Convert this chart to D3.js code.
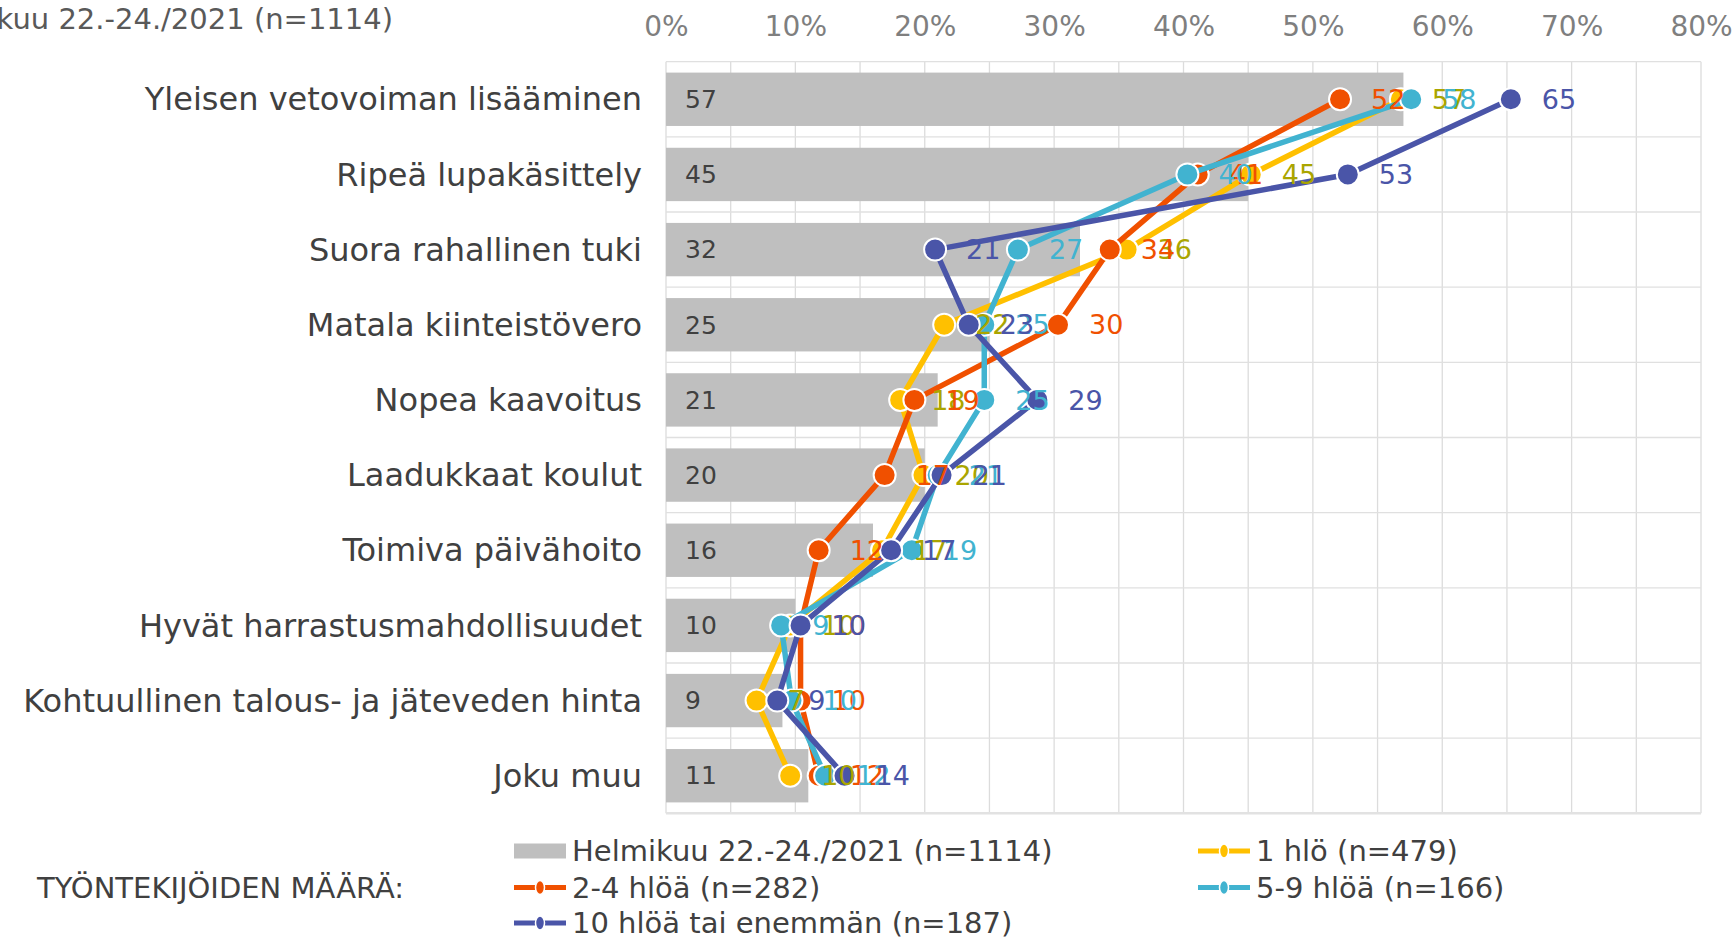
<!DOCTYPE html>
<html>
<head>
<meta charset="utf-8">
<script src="https://cdn.jsdelivr.net/npm/d3@7"></script>
<style>
  html, body { margin: 0; padding: 0; background: #fff; overflow: hidden; }
  svg { display: block; font-family: "DejaVu Sans", Verdana, sans-serif; }
</style>
</head>
<body>
<svg id="chart"></svg>
<script>
// Chart size
const width = 1735;
const height = 938;

// Categories (top to bottom)
const categories = [
    "Yleisen vetovoiman lisääminen",
    "Ripeä lupakäsittely",
    "Suora rahallinen tuki",
    "Matala kiinteistövero",
    "Nopea kaavoitus",
    "Laadukkaat koulut",
    "Toimiva päivähoito",
    "Hyvät harrastusmahdollisuudet",
    "Kohtuullinen talous- ja jäteveden hinta",
    "Joku muu"
];

// All respondents (bars)
const totalValues = [57, 45, 32, 25, 21, 20, 16, 10, 9, 11];

// Line series by company size
const oneValues   = [56.8, 45.2, 35.6, 21.5, 18.1, 19.9, 16.7, 9.6, 7.0, 9.6];
const twoValues   = [52.1, 41.1, 34.3, 30.3, 19.2, 16.9, 11.8, 10.4, 10.4, 11.8];
const fiveValues  = [57.6, 40.3, 27.2, 24.6, 24.6, 21.0, 19.0, 8.9, 9.7, 12.3];
const tenValues   = [65.3, 52.7, 20.8, 23.4, 28.7, 21.3, 17.4, 10.4, 8.6, 13.8];

// Axis ticks
const tickValues = [0, 10, 20, 30, 40, 50, 60, 70, 80];
const gridValues = d3.range(0, 81, 5);

const barLabel = "Helmikuu  22.-24./2021 (n=1114)";
const legendTitle = "TYÖNTEKIJÖIDEN MÄÄRÄ:";

const series = [
    { name: "1 hlö (n=479)", values: oneValues, color: "#ffc000", label: "#aaa500" },
    { name: "2-4 hlöä (n=282)", values: twoValues, color: "#f05000", label: "#f05000" },
    { name: "5-9 hlöä (n=166)", values: fiveValues, color: "#41b3d0", label: "#41b3d0" },
    { name: "10 hlöä tai enemmän (n=187)", values: tenValues, color: "#4a55a8", label: "#4a55a8" }
];

const svg = d3.select("#chart")
    .attr("width", width)
    .attr("height", height);

// Scales
const x = d3.scaleLinear().domain([0, 80]).range([666, 1701]);
const y = d3.scaleBand()
    .domain(categories)
    .range([61.7, 813.3])
    .paddingInner(0.29)
    .paddingOuter(0.145);
const step = y.step();
const plotTop = y.range()[0];
const plotBottom = y.range()[1];
const cy = d => y(d) + y.bandwidth() / 2;

// Gridlines
const grid = svg.append("g");
grid.selectAll("line.v")
    .data(gridValues)
    .enter().append("line")
    .attr("x1", d => x(d)).attr("x2", d => x(d))
    .attr("y1", plotTop).attr("y2", plotBottom)
    .attr("stroke", "#dcdcdc").attr("stroke-width", 1.3);
grid.selectAll("line.h")
    .data(d3.range(0, categories.length + 1))
    .enter().append("line")
    .attr("x1", x(0)).attr("x2", x(80))
    .attr("y1", i => plotTop + i * step).attr("y2", i => plotTop + i * step)
    .attr("stroke", i => i === categories.length ? "#e2e2e2" : "#e0e0e0")
    .attr("stroke-width", i => i === categories.length ? 2.5 : 1.3);

// Top axis
const axis = svg.append("g")
    .attr("transform", `translate(0,${plotTop})`)
    .call(d3.axisTop(x).tickValues(tickValues).tickSize(0).tickPadding(26)
        .tickFormat(d => d + "%"));
axis.select(".domain").remove();
axis.selectAll("text")
    .attr("fill", "#7f7f7f")
    .style("font-size", "28px")
    .style("font-family", "DejaVu Sans, sans-serif");

// Category labels
svg.append("g").selectAll("text")
    .data(categories)
    .enter().append("text")
    .attr("x", 642)
    .attr("y", d => cy(d))
    .attr("dy", "0.35em")
    .attr("text-anchor", "end")
    .attr("fill", "#404040")
    .style("font-size", "32px")
    .text(d => d);

// Bars
svg.append("g").selectAll("rect")
    .data(categories)
    .enter().append("rect")
    .attr("x", x(0))
    .attr("y", d => y(d))
    .attr("width", (d, i) => x(totalValues[i]) - x(0))
    .attr("height", y.bandwidth())
    .attr("fill", "#bfbfbf");

svg.append("g").selectAll("text")
    .data(categories)
    .enter().append("text")
    .attr("x", x(0) + 19)
    .attr("y", d => cy(d))
    .attr("dy", "0.35em")
    .attr("fill", "#404040")
    .style("font-size", "25px")
    .text((d, i) => totalValues[i]);

// Lines and markers
const line = d3.line()
    .x(d => x(d.v))
    .y(d => cy(d.c));

series.forEach(s => {
    const pts = categories.map((c, i) => ({ c: c, v: s.values[i] }));
    const g = svg.append("g");
    g.append("path")
        .datum(pts)
        .attr("d", line)
        .attr("fill", "none")
        .attr("stroke", s.color)
        .attr("stroke-width", 5.5)
        .attr("stroke-linejoin", "round");
    g.selectAll("circle")
        .data(pts)
        .enter().append("circle")
        .attr("cx", d => x(d.v))
        .attr("cy", d => cy(d.c))
        .attr("r", 11)
        .attr("fill", s.color)
        .attr("stroke", "#fff")
        .attr("stroke-width", 2);
});

// Data labels on top of all lines
series.forEach(s => {
    svg.append("g").selectAll("text")
        .data(categories)
        .enter().append("text")
        .attr("x", (d, i) => x(s.values[i]) + 31)
        .attr("y", d => cy(d))
        .attr("dy", "0.36em")
        .attr("fill", s.label)
        .style("font-size", "27px")
        .text((d, i) => Math.round(s.values[i]));
});

// Title (cut at the left edge)
svg.append("text")
    .attr("x", 393)
    .attr("y", 29)
    .attr("text-anchor", "end")
    .attr("fill", "#595959")
    .style("font-size", "29px")
    .text(barLabel);

// Legend
const legend = svg.append("g").style("font-size", "29px").attr("fill", "#404040");
legend.append("text")
    .attr("x", 37).attr("y", 887.5).attr("dy", "0.35em")
    .text(legendTitle);

const rowY = [851, 887.5, 923];
const colX = [514, 1198];

legend.append("rect")
    .attr("x", colX[0]).attr("y", rowY[0] - 7.5)
    .attr("width", 52).attr("height", 15)
    .attr("fill", "#bfbfbf");
legend.append("text")
    .attr("x", colX[0] + 58).attr("y", rowY[0]).attr("dy", "0.35em")
    .text(barLabel.replace("  ", " ") );

const slots = [[1, 0], [0, 1], [1, 1], [0, 2]];
series.forEach((s, i) => {
    const lx = colX[slots[i][0]];
    const ly = rowY[slots[i][1]];
    legend.append("line")
        .attr("x1", lx).attr("x2", lx + 52)
        .attr("y1", ly).attr("y2", ly)
        .attr("stroke", s.color).attr("stroke-width", 5);
    legend.append("ellipse")
        .attr("cx", lx + 26).attr("cy", ly)
        .attr("rx", 4.5).attr("ry", 7)
        .attr("fill", s.color).attr("stroke", "#fff").attr("stroke-width", 1.5);
    legend.append("text")
        .attr("x", lx + 58).attr("y", ly).attr("dy", "0.35em")
        .text(s.name);
});
</script>
</body>
</html>
